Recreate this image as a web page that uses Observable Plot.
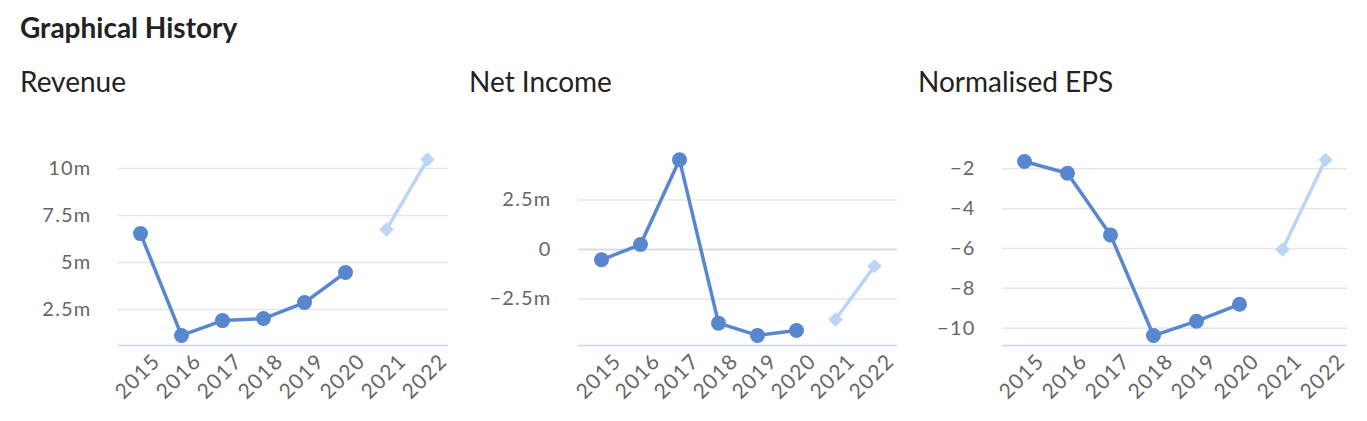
<!DOCTYPE html>
<html><head><meta charset="utf-8">
<script src="https://cdn.jsdelivr.net/npm/d3@7"></script>
<script src="https://cdn.jsdelivr.net/npm/@observablehq/plot@0.6"></script>
<style>
body{margin:0;background:#fff;font-family:Lato,sans-serif;width:1367px;height:421px;position:relative;overflow:hidden}
h1{position:absolute;left:20px;top:13px;margin:0;font-size:28px;line-height:28px;font-weight:700;color:#222}
.panel{position:absolute;top:0;width:449px;height:421px}
.panel h2{position:absolute;left:20px;top:67px;margin:0;font-weight:400;font-size:28px;line-height:28px;color:#222;white-space:nowrap}
.panel svg{position:absolute;left:0;top:100px}
.panel svg text{letter-spacing:1.2px}
</style></head>
<body>
<h1>Graphical History</h1>
<div id="charts"></div>
<script>
const years = ["2015","2016","2017","2018","2019","2020","2021","2022"];
const actualYears = ["2015","2016","2017","2018","2019","2020"];
const forecastYears = ["2021","2022"];

const revenueActual = [6.54, 1.12, 1.91, 2.02, 2.87, 4.47];
const revenueForecast = [6.76, 10.48];
const revenueTicks = [2.5, 5, 7.5, 10];

const netIncomeActual = [-0.52, 0.25, 4.53, -3.72, -4.34, -4.09];
const netIncomeForecast = [-3.54, -0.84];
const netIncomeTicks = [-2.5, 0, 2.5];

const epsActual = [-1.63, -2.22, -5.32, -10.37, -9.65, -8.80];
const epsForecast = [-6.05, -1.55];
const epsTicks = [-10, -8, -6, -4, -2];

const mainColor = "#5887d0";
const foreColor = "#bcd4f5";

const fmtM = d => d === 0 ? "0" : (d < 0 ? "\u2212" : "") + Math.abs(d) + "m";
const fmtN = d => (d < 0 ? "\u2212" : "") + Math.abs(d);

const panels = [
  {title: "Revenue", left: 0, actual: revenueActual, forecast: revenueForecast, ticks: revenueTicks, fmt: fmtM, domain: [0.585, 10.96], ml: 118, mr: 1, zero: false},
  {title: "Net Income", left: 449, actual: netIncomeActual, forecast: netIncomeForecast, ticks: netIncomeTicks, fmt: fmtM, domain: [-4.85, 5.0], ml: 129, mr: 1, zero: true},
  {title: "Normalised EPS", left: 898, actual: epsActual, forecast: epsForecast, ticks: epsTicks, fmt: fmtN, domain: [-10.87, -1.08], ml: 104, mr: 0, zero: false}
];

const container = document.getElementById("charts");
for (const p of panels) {
  const div = document.createElement("div");
  div.className = "panel";
  div.style.left = p.left + "px";
  const h = document.createElement("h2");
  h.textContent = p.title;
  div.appendChild(h);

  const actual = actualYears.map((y, i) => ({year: y, value: p.actual[i]}));
  const forecast = forecastYears.map((y, i) => ({year: y, value: p.forecast[i]}));

  const chart = Plot.plot({
    width: 449,
    height: 321,
    marginLeft: p.ml,
    marginRight: p.mr,
    marginTop: 50,
    marginBottom: 76,
    style: {fontFamily: "Lato, sans-serif", fontSize: "20px", background: "transparent", overflow: "visible"},
    x: {type: "point", domain: years, padding: 0.5, axis: null},
    y: {domain: p.domain, axis: null},
    marks: [
      Plot.ruleY(p.ticks, {stroke: "#e6e6e6", strokeWidth: 1.5}),
      p.zero ? Plot.ruleY([0], {stroke: "#d8d8d8", strokeWidth: 1.5}) : null,
      Plot.ruleY([p.domain[0]], {stroke: "#ccd6eb", strokeWidth: 1.5}),
      Plot.text(p.ticks, {frameAnchor: "left", y: d => d, text: p.fmt, textAnchor: "end", dx: -27, fill: "#666", fontSize: 20}),
      Plot.text(years, {x: d => d, frameAnchor: "bottom", text: d => d, rotate: -45, textAnchor: "end", dx: 21, dy: 17, fill: "#666", fontSize: 21}),
      Plot.line(actual, {x: "year", y: "value", stroke: mainColor, strokeWidth: 3.5}),
      Plot.dot(actual, {x: "year", y: "value", r: 7.5, fill: mainColor, stroke: "none"}),
      Plot.line(forecast, {x: "year", y: "value", stroke: foreColor, strokeWidth: 3.5}),
      Plot.dot(forecast, {x: "year", y: "value", r: 6.5, symbol: "diamond2", fill: foreColor, stroke: "none"})
    ]
  });
  div.appendChild(chart);
  container.appendChild(div);
}
</script>
</body></html>
